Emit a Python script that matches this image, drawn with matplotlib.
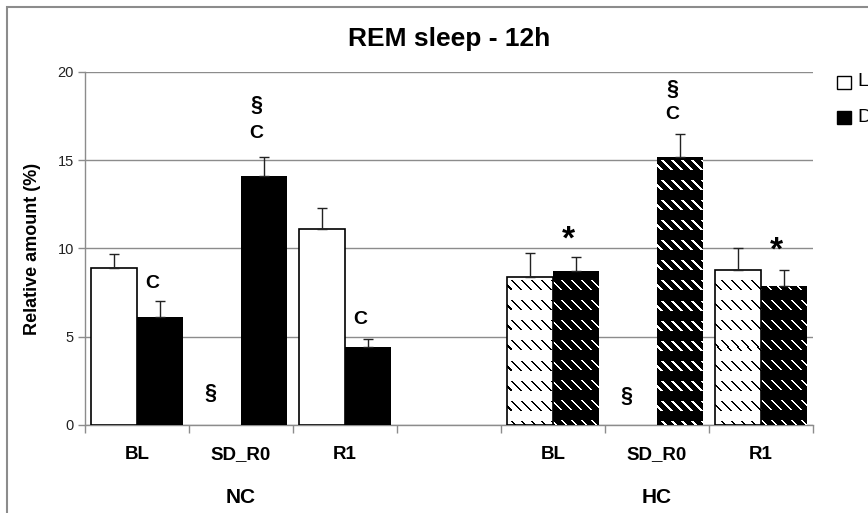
import matplotlib
matplotlib.use("Agg")
import matplotlib.pyplot as plt
from matplotlib.patches import Rectangle
import numpy as np

plt.rcParams['font.family'] = ['Liberation Sans', 'DejaVu Sans']

# Categories per slot (empty slot separates the two conditions)
categories = ["BL", "SD_R0", "R1", "", "BL", "SD_R0", "R1"]
groups = ["NC", "HC"]
series = ["Light", "Dark"]

# REM sleep relative amount (%), mean and upper error (SEM)
light_vals = [8.9, 0.0, 11.1, np.nan, 8.4, 0.0, 8.8]
light_err = [0.8, 0.0, 1.2, np.nan, 1.35, 0.0, 1.25]
dark_vals = [6.1, 14.1, 4.4, np.nan, 8.7, 15.2, 7.85]
dark_err = [0.9, 1.1, 0.5, np.nan, 0.8, 1.3, 0.95]
hatched = [False, False, False, False, True, True, True]

# Significance marks: (slot, series index, y, text)
marks = [
    (0, 1, 8.0, "C"),
    (1, 0, 1.8, "§"),
    (1, 1, 16.5, "C"),
    (1, 1, 18.1, "§"),
    (2, 1, 6.0, "C"),
    (4, 1, 10.5, "*"),
    (5, 0, 1.6, "§"),
    (5, 1, 17.6, "C"),
    (5, 1, 19.0, "§"),
    (6, 1, 9.85, "*"),
]

FIG_W, FIG_H, DPI = 8.68, 5.13, 100
fig = plt.figure(figsize=(FIG_W, FIG_H), dpi=DPI)
ax = fig.add_axes([85 / 868, 1 - 425 / 513, (813 - 85) / 868, (425 - 72) / 513])

x = np.arange(len(categories))
w = 0.44
off = 0.22
grey = "#8c8c8c"

ax.set_xlim(-0.5, len(categories) - 0.5)
ax.set_ylim(0, 20)


def dash_pattern(bar, ink, paper):
    """Fill a bar with a dashed downward-diagonal pattern, pixel aligned."""
    fig.canvas.draw()
    bb = bar.get_window_extent()
    wpx = max(int(round(bb.width)), 1)
    hpx = max(int(round(bb.height)), 1)
    cols = np.arange(wpx)[None, :] + bb.x0
    rows = (FIG_H * DPI - bb.y1) + np.arange(hpx)[:, None]
    on = ((rows % 20) < 10) & (((cols - rows) % 10) < 2.5)
    img = np.where(on[..., None], np.array(ink)[None, None, :],
                   np.array(paper)[None, None, :])
    x0, y0 = bar.get_x(), bar.get_y()
    im = ax.imshow(img, extent=[x0, x0 + bar.get_width(), y0, y0 + bar.get_height()],
                   aspect="auto", interpolation="nearest", zorder=3.05)
    im.set_clip_path(bar)


patterned = []
for i in range(len(categories)):
    if np.isnan(dark_vals[i]):
        continue
    if light_vals[i] > 0:
        b = ax.bar(x[i] - off, light_vals[i], w, color="white", edgecolor="none",
                   linewidth=0, zorder=3)[0]
        if hatched[i]:
            patterned.append((b, (0.0, 0.0, 0.0), (1.0, 1.0, 1.0)))
        ax.add_patch(Rectangle((b.get_x(), 0), w, light_vals[i], fill=False,
                               edgecolor="black", linewidth=1.2, zorder=3.1))
        ax.errorbar(x[i] - off, light_vals[i], yerr=[[0], [light_err[i]]],
                    fmt="none", ecolor="#222222", elinewidth=1, capsize=3.5,
                    capthick=1, zorder=4)
    b = ax.bar(x[i] + off, dark_vals[i], w, color="black", linewidth=0, zorder=3)[0]
    if hatched[i]:
        patterned.append((b, (1.0, 1.0, 1.0), (0.0, 0.0, 0.0)))
    ax.errorbar(x[i] + off, dark_vals[i], yerr=[[0], [dark_err[i]]],
                fmt="none", ecolor="#222222", elinewidth=1, capsize=3.5,
                capthick=1, zorder=4)

for slot, s, y, t in marks:
    xp = x[slot] + (off if s == 1 else -off) - 0.07
    if t == "*":
        ax.text(xp, y, t, ha="center", va="center", fontsize=24,
                fontweight="bold", zorder=5)
    elif t == "§":
        ax.text(xp, y, t, ha="center", va="center", fontsize=15.5,
                fontweight="bold", zorder=5)
    else:
        ax.text(xp, y, t, ha="center", va="center", fontsize=14,
                fontweight="bold", zorder=5)

ax.set_yticks([0, 5, 10, 15, 20])
ax.tick_params(axis="y", labelsize=10.5, length=5, color=grey, width=1,
               labelcolor="#222222", pad=3)
ax.yaxis.grid(True, color=grey, linewidth=1)
ax.set_axisbelow(True)

ax.set_xticks(x)
ax.set_xticklabels(categories, fontsize=13.5, fontweight="bold")
ax.tick_params(axis="x", length=0, pad=15)
ax.set_xticks(np.arange(-0.5, len(categories)), minor=True)
ax.tick_params(axis="x", which="minor", length=6, color=grey, width=1)

for side in ("top", "right"):
    ax.spines[side].set_visible(False)
for side in ("left", "bottom"):
    ax.spines[side].set_color(grey)
    ax.spines[side].set_linewidth(1)

ax.set_ylabel("Relative amount (%)", fontsize=13, fontweight="bold", labelpad=12)
ax.set_title("REM sleep - 12h", fontsize=19, fontweight="bold", pad=19)

# Group labels beneath the category labels
for gi, g in enumerate(groups):
    ax.text(x[1 + 4 * gi], -0.205, g, transform=ax.get_xaxis_transform(),
            ha="center", va="center", fontsize=15, fontweight="bold")

# Legend entries at the right edge
for yy, fc, lab in [(82, "white", series[0]), (117, "black", series[1])]:
    fig.patches.append(Rectangle((837 / 868, 1 - (yy + 7) / 513), 14 / 868, 13 / 513,
                                 transform=fig.transFigure, facecolor=fc,
                                 edgecolor="black", linewidth=1))
    fig.text(857 / 868, 1 - yy / 513, lab, ha="left", va="center", fontsize=14)

# Chart border
fig.patches.append(Rectangle((7 / 868, -0.1), 1.2, 1.1 - 7 / 513,
                             transform=fig.transFigure, fill=False,
                             edgecolor=grey, linewidth=1.5))

for bar, ink, paper in patterned:
    dash_pattern(bar, ink, paper)

fig.savefig("out.png", dpi=DPI)
